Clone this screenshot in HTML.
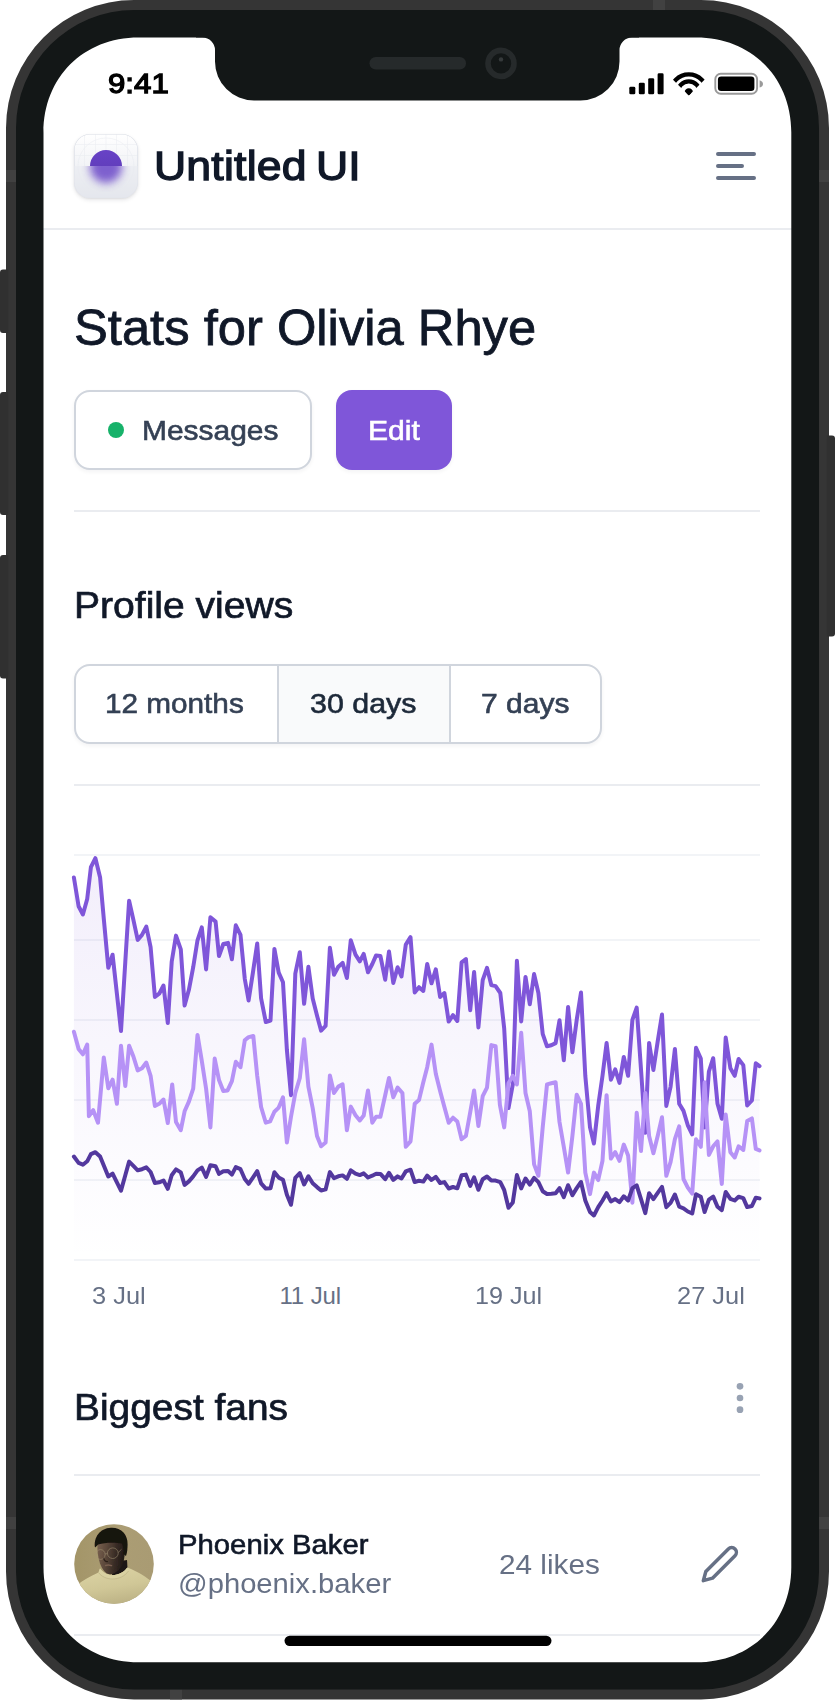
<!DOCTYPE html>
<html lang="en"><head><meta charset="utf-8"><title>Untitled UI – Stats for Olivia Rhye</title>
<style>
*{box-sizing:border-box;margin:0;padding:0}
html,body{width:837px;height:1704px;background:#fff;overflow:hidden}
body{position:relative;font-family:"Liberation Sans",sans-serif}
.t{position:absolute;white-space:nowrap;line-height:1;transform-origin:0 0}
.abs{position:absolute}
.hr{position:absolute;height:2px;background:#EAECF0;left:74px;width:686px}
svg{position:absolute;left:0;top:0;overflow:visible}
</style></head>
<body>
<!-- status bar -->
<div class="t" style="left:107.80px;top:69.47px;font-size:28.5px;color:#000;-webkit-text-stroke:1.3px #000;transform:scaleX(1.095);z-index:3;">9:41</div>

<svg width="837" height="130" viewBox="0 0 837 130" style="z-index:3">
  <g fill="#000">
    <rect x="629.300" y="86.800" width="6" height="7.500" rx="1.400"/>
    <rect x="638.800" y="82.700" width="6" height="11.600" rx="1.400"/>
    <rect x="648.200" y="78.200" width="6" height="16.100" rx="1.400"/>
    <rect x="657.600" y="73.300" width="6" height="21" rx="1.400"/>
  </g>
  <g>
    <clipPath id="wf"><path d="M688.800 95.500L671.500 78.200V68H706V78.200Z"/></clipPath>
    <g clip-path="url(#wf)" fill="none" stroke="#000" stroke-width="4.300">
      <circle cx="688.800" cy="92.600" r="18.300"/>
      <circle cx="688.800" cy="92.600" r="11.200"/>
      <circle cx="688.800" cy="92.600" r="2.500" fill="#000" stroke-width="3.500"/>
    </g>
  </g>
  <rect x="715.300" y="73.800" width="41.800" height="20" rx="5.500" fill="none" stroke="#9a9a9a" stroke-width="1.900"/>
  <rect x="717.900" y="76.500" width="36.500" height="14.600" rx="3.300" fill="#000"/>
  <path d="M759.600 80.200C761.800 80.900 763 82.300 763 83.900C763 85.500 761.800 86.900 759.600 87.600Z" fill="#9a9a9a"/>
</svg>
<!-- header -->

<div class="abs" style="left:74px;top:134px;width:64px;height:64px;border-radius:16px;background:linear-gradient(180deg,#fff 0%,#f3f4f7 45%,#dfe2e9 100%);box-shadow:0 0 0 0.6px #d8dce4 inset,0 2px 4px rgba(16,24,40,.10),0 1px 2px rgba(16,24,40,.06);overflow:hidden">
  <svg width="64" height="64" viewBox="0 0 64 64">
    <defs>
      <linearGradient id="lg1" x1="0" y1="0" x2="0" y2="1"><stop offset="0" stop-color="#6842C6"/><stop offset="1" stop-color="#5B3AB4"/></linearGradient>
      <filter id="bl" x="-50%" y="-50%" width="200%" height="200%"><feGaussianBlur stdDeviation="4"/></filter>
      <clipPath id="tophalf"><rect x="0" y="0" width="64" height="32"/></clipPath>
      <clipPath id="bothalf"><rect x="0" y="32" width="64" height="32"/></clipPath>
    </defs>
    <g stroke="#e3e6ec" stroke-width="0.600" fill="none" opacity=".6">
      <path d="M10.500 0V32M21.500 0V32M32 0V32M42.500 0V32M53.500 0V32M0 10.500H64M0 21.500H64"/>
      <circle cx="32" cy="32" r="28"/>
    </g>
    <rect x="0" y="32" width="64" height="32" fill="#e9ebf0" opacity=".55"/>
    <g clip-path="url(#bothalf)"><circle cx="32" cy="33" r="16" fill="#6B46C8" opacity=".85" filter="url(#bl)"/></g>
    <g clip-path="url(#tophalf)"><circle cx="32" cy="32" r="16" fill="url(#lg1)"/></g>
  </svg>
</div>
<div class="t" style="left:153.80px;top:146.14px;font-size:40px;color:#101828;letter-spacing:0.2px;-webkit-text-stroke:1.3px #101828;transform:scaleX(1.113);word-spacing:-3px;">Untitled UI</div>
<svg width="48" height="48" viewBox="0 0 24 24" style="left:712px;top:142px" fill="none" stroke="#667085" stroke-width="2" stroke-linecap="round"><path d="M3 6h18M3 12h12M3 18h18"/></svg>
<div class="hr" style="left:43px;width:749px;top:228px"></div>
<!-- page title -->
<div class="t" style="left:73.80px;top:302.50px;font-size:49.5px;color:#101828;-webkit-text-stroke:0.8px #101828;transform:scaleX(1.0244);">Stats for Olivia Rhye</div>
<div class="abs" style="left:74px;top:390px;width:238px;height:80px;border:2px solid #D0D5DD;border-radius:16px;background:#fff;box-shadow:0 2px 4px rgba(16,24,40,.05)"></div>
<div class="abs" style="left:108px;top:422px;width:16px;height:16px;border-radius:50%;background:#17B26A"></div>
<div class="t" style="left:141.90px;top:416.60px;font-size:28px;color:#344054;-webkit-text-stroke:0.6px #344054;transform:scaleX(1.0686);">Messages</div>
<div class="abs" style="left:336px;top:390px;width:116px;height:80px;border-radius:16px;background:#7F56D9;box-shadow:0 2px 4px rgba(16,24,40,.05)"></div>
<div class="t" style="left:367.60px;top:416.60px;font-size:28px;color:#fff;-webkit-text-stroke:0.6px #fff;transform:scaleX(1.0746);">Edit</div>
<div class="hr" style="top:510px"></div>
<!-- profile views -->
<div class="t" style="left:73.60px;top:587.50px;font-size:36.5px;color:#101828;-webkit-text-stroke:0.7px #101828;transform:scaleX(1.0703);">Profile views</div>
<div class="abs" style="left:74px;top:664px;width:528px;height:80px;border:2px solid #D0D5DD;border-radius:16px;background:#fff;box-shadow:0 2px 4px rgba(16,24,40,.05);overflow:hidden">
  <div class="abs" style="left:201px;top:0;width:174px;height:76px;background:#F9FAFB;border-left:2px solid #D0D5DD;border-right:2px solid #D0D5DD"></div>
</div>
<div class="t" style="left:105.40px;top:690.10px;font-size:28px;color:#344054;-webkit-text-stroke:0.6px #344054;transform:scaleX(1.0612);">12 months</div>
<div class="t" style="left:310.30px;top:690.10px;font-size:28px;color:#1D2939;-webkit-text-stroke:0.6px #1D2939;transform:scaleX(1.0856);">30 days</div>
<div class="t" style="left:481.30px;top:690.10px;font-size:28px;color:#344054;-webkit-text-stroke:0.6px #344054;transform:scaleX(1.0727);">7 days</div>
<div class="hr" style="top:784px"></div>
<!-- chart -->
<svg width="837" height="1704" viewBox="0 0 837 1704" style="z-index:1">
<defs><linearGradient id="cg" x1="0" y1="855" x2="0" y2="1260" gradientUnits="userSpaceOnUse"><stop offset="0" stop-color="#7F56D9" stop-opacity=".1"/><stop offset="1" stop-color="#7F56D9" stop-opacity="0"/></linearGradient></defs>
<rect x="74" y="854" width="686" height="2" fill="#F2F4F7"/>
<rect x="74" y="939" width="686" height="2" fill="#F2F4F7"/>
<rect x="74" y="1019" width="686" height="2" fill="#F2F4F7"/>
<rect x="74" y="1099" width="686" height="2" fill="#F2F4F7"/>
<rect x="74" y="1179" width="686" height="2" fill="#F2F4F7"/>
<rect x="74" y="1259" width="686" height="2" fill="#F2F4F7"/>
<path d="M73.9 877.5 L78.6 906.3 L82.9 914.5 L87.2 899.0 L90.9 867.2 L95.4 858.2 L100.1 877.5 L104.0 921.0 L108.3 967.8 L112.6 954.7 L116.9 993.7 L121.0 1031.1 L125.3 961.8 L129.1 900.8 L133.4 919.9 L137.7 939.9 L142.0 934.9 L146.3 926.6 L150.6 947.2 L154.9 996.9 L159.2 993.7 L163.5 985.5 L167.8 1023.1 L171.7 961.8 L176.0 935.6 L180.8 949.4 L184.6 1005.5 L188.9 989.8 L193.2 967.2 L197.5 940.3 L201.8 927.4 L206.1 969.4 L210.4 917.3 L215.6 921.6 L219.0 956.0 L223.3 944.0 L228.1 942.9 L231.9 959.2 L235.8 925.3 L240.5 934.9 L244.8 979.0 L248.6 1000.5 L252.9 972.6 L257.2 943.5 L261.1 998.4 L265.8 1022.0 L270.5 1020.5 L274.4 948.9 L278.7 972.6 L283.0 982.3 L286.9 1050.0 L291.0 1095.2 L295.3 973.7 L299.8 952.2 L304.1 1003.8 L308.4 966.8 L312.7 998.4 L317.0 1015.6 L321.1 1030.6 L325.6 1025.9 L329.9 947.8 L334.0 974.7 L338.3 966.8 L342.6 962.9 L346.9 978.0 L350.8 940.3 L355.5 954.7 L359.8 961.4 L363.7 953.9 L368.0 972.2 L372.3 964.0 L376.1 955.4 L380.4 956.0 L385.2 979.7 L389.0 951.5 L393.3 982.9 L397.6 967.2 L401.5 976.5 L405.8 944.6 L410.5 937.1 L414.7 992.4 L419.0 987.2 L423.3 990.9 L427.2 964.0 L431.5 983.3 L435.8 969.4 L440.1 996.9 L444.4 993.0 L448.7 1021.6 L453.0 1015.2 L457.3 1021.0 L461.6 962.3 L465.9 959.0 L470.2 1010.2 L474.1 971.9 L478.4 1027.4 L482.7 980.1 L487.0 967.8 L491.3 985.1 L495.6 986.1 L500.3 993.0 L504.2 1028.5 L508.5 1108.1 L512.8 1084.4 L516.9 960.8 L521.2 1021.4 L525.5 976.9 L529.8 1004.2 L534.1 974.1 L538.4 993.0 L542.7 1033.9 L547.0 1046.3 L551.3 1045.3 L555.6 1043.1 L559.5 1020.3 L563.8 1060.3 L568.1 1007.0 L572.4 1052.2 L576.7 1019.9 L581.0 992.6 L585.3 1075.8 L590.0 1127.4 L593.9 1143.5 L598.2 1105.9 L602.5 1075.8 L606.6 1042.9 L610.9 1079.7 L615.2 1069.4 L619.5 1082.9 L623.8 1056.9 L628.1 1075.8 L632.4 1019.9 L636.7 1007.6 L641.0 1069.4 L645.3 1132.8 L649.1 1042.9 L653.4 1070.0 L657.7 1041.4 L662.0 1014.5 L666.3 1105.9 L670.6 1086.6 L674.9 1048.9 L679.2 1103.8 L683.5 1110.9 L687.8 1125.3 L692.2 1134.3 L696.0 1047.8 L700.8 1058.6 L704.6 1127.4 L708.9 1071.5 L713.2 1058.2 L717.5 1103.8 L721.8 1118.8 L725.7 1037.5 L730.4 1068.3 L734.7 1075.8 L738.6 1059.0 L743.3 1065.1 L747.2 1105.5 L751.9 1100.5 L755.8 1063.3 L759.5 1066.1 L759.5 1260 L73.9 1260Z" fill="url(#cg)"/>
<path d="M73.9 877.5 L78.6 906.3 L82.9 914.5 L87.2 899.0 L90.9 867.2 L95.4 858.2 L100.1 877.5 L104.0 921.0 L108.3 967.8 L112.6 954.7 L116.9 993.7 L121.0 1031.1 L125.3 961.8 L129.1 900.8 L133.4 919.9 L137.7 939.9 L142.0 934.9 L146.3 926.6 L150.6 947.2 L154.9 996.9 L159.2 993.7 L163.5 985.5 L167.8 1023.1 L171.7 961.8 L176.0 935.6 L180.8 949.4 L184.6 1005.5 L188.9 989.8 L193.2 967.2 L197.5 940.3 L201.8 927.4 L206.1 969.4 L210.4 917.3 L215.6 921.6 L219.0 956.0 L223.3 944.0 L228.1 942.9 L231.9 959.2 L235.8 925.3 L240.5 934.9 L244.8 979.0 L248.6 1000.5 L252.9 972.6 L257.2 943.5 L261.1 998.4 L265.8 1022.0 L270.5 1020.5 L274.4 948.9 L278.7 972.6 L283.0 982.3 L286.9 1050.0 L291.0 1095.2 L295.3 973.7 L299.8 952.2 L304.1 1003.8 L308.4 966.8 L312.7 998.4 L317.0 1015.6 L321.1 1030.6 L325.6 1025.9 L329.9 947.8 L334.0 974.7 L338.3 966.8 L342.6 962.9 L346.9 978.0 L350.8 940.3 L355.5 954.7 L359.8 961.4 L363.7 953.9 L368.0 972.2 L372.3 964.0 L376.1 955.4 L380.4 956.0 L385.2 979.7 L389.0 951.5 L393.3 982.9 L397.6 967.2 L401.5 976.5 L405.8 944.6 L410.5 937.1 L414.7 992.4 L419.0 987.2 L423.3 990.9 L427.2 964.0 L431.5 983.3 L435.8 969.4 L440.1 996.9 L444.4 993.0 L448.7 1021.6 L453.0 1015.2 L457.3 1021.0 L461.6 962.3 L465.9 959.0 L470.2 1010.2 L474.1 971.9 L478.4 1027.4 L482.7 980.1 L487.0 967.8 L491.3 985.1 L495.6 986.1 L500.3 993.0 L504.2 1028.5 L508.5 1108.1 L512.8 1084.4 L516.9 960.8 L521.2 1021.4 L525.5 976.9 L529.8 1004.2 L534.1 974.1 L538.4 993.0 L542.7 1033.9 L547.0 1046.3 L551.3 1045.3 L555.6 1043.1 L559.5 1020.3 L563.8 1060.3 L568.1 1007.0 L572.4 1052.2 L576.7 1019.9 L581.0 992.6 L585.3 1075.8 L590.0 1127.4 L593.9 1143.5 L598.2 1105.9 L602.5 1075.8 L606.6 1042.9 L610.9 1079.7 L615.2 1069.4 L619.5 1082.9 L623.8 1056.9 L628.1 1075.8 L632.4 1019.9 L636.7 1007.6 L641.0 1069.4 L645.3 1132.8 L649.1 1042.9 L653.4 1070.0 L657.7 1041.4 L662.0 1014.5 L666.3 1105.9 L670.6 1086.6 L674.9 1048.9 L679.2 1103.8 L683.5 1110.9 L687.8 1125.3 L692.2 1134.3 L696.0 1047.8 L700.8 1058.6 L704.6 1127.4 L708.9 1071.5 L713.2 1058.2 L717.5 1103.8 L721.8 1118.8 L725.7 1037.5 L730.4 1068.3 L734.7 1075.8 L738.6 1059.0 L743.3 1065.1 L747.2 1105.5 L751.9 1100.5 L755.8 1063.3 L759.5 1066.1" fill="none" stroke="#7F56D9" stroke-width="4" stroke-linejoin="round" stroke-linecap="round"/>
<path d="M73.9 1031.7 L78.6 1048.9 L82.9 1054.3 L87.2 1044.6 L88.9 1116.2 L93.2 1110.2 L98.0 1122.7 L103.8 1057.5 L108.3 1088.3 L112.6 1079.7 L116.9 1103.8 L121.0 1045.7 L125.3 1086.1 L129.1 1045.7 L133.4 1056.5 L137.7 1070.4 L142.0 1068.3 L146.3 1062.5 L150.6 1075.8 L154.9 1105.9 L159.2 1103.8 L163.5 1099.5 L167.8 1123.1 L172.2 1084.4 L176.0 1122.0 L180.8 1130.2 L184.6 1111.3 L188.9 1101.6 L193.2 1088.7 L197.5 1034.9 L201.8 1060.8 L206.1 1088.7 L210.4 1127.4 L214.7 1058.6 L219.0 1080.1 L223.3 1090.9 L227.6 1090.4 L231.9 1081.2 L235.8 1061.8 L240.5 1067.2 L244.8 1040.3 L244.7 1040.3 L248.6 1037.1 L253.3 1036.0 L257.2 1075.8 L261.1 1107.0 L265.8 1122.7 L270.1 1121.4 L274.4 1111.7 L278.7 1107.6 L283.0 1097.3 L286.9 1142.5 L291.0 1116.7 L295.3 1093.0 L299.8 1078.0 L304.1 1039.2 L308.4 1086.6 L312.7 1108.1 L317.0 1136.0 L321.1 1146.3 L325.6 1142.5 L329.9 1075.4 L334.0 1093.0 L338.3 1086.6 L342.6 1084.4 L346.9 1130.2 L350.8 1106.6 L355.5 1115.2 L359.8 1120.5 L363.7 1115.6 L368.0 1090.4 L372.3 1122.7 L376.1 1116.7 L380.4 1116.7 L385.2 1095.2 L389.0 1078.0 L393.3 1097.3 L397.6 1087.6 L402.4 1093.0 L405.8 1146.8 L410.5 1141.4 L414.7 1103.8 L419.0 1100.1 L423.3 1082.3 L427.2 1067.2 L431.5 1044.6 L435.8 1073.7 L440.1 1090.9 L444.4 1107.0 L448.7 1122.7 L453.0 1117.7 L457.3 1121.4 L461.6 1139.2 L465.9 1136.0 L470.2 1112.4 L474.1 1090.4 L478.4 1125.9 L482.7 1096.2 L487.0 1087.6 L491.3 1045.1 L495.6 1046.1 L499.9 1104.8 L504.2 1127.4 L508.5 1083.3 L512.8 1075.8 L516.9 1084.4 L521.2 1032.8 L525.5 1093.0 L529.8 1111.3 L534.1 1164.4 L538.4 1175.8 L542.7 1127.4 L547.0 1084.4 L551.3 1083.3 L555.6 1082.3 L559.5 1122.0 L563.8 1146.8 L568.1 1172.6 L572.4 1136.0 L576.7 1094.7 L581.0 1103.8 L585.3 1172.6 L590.0 1194.1 L593.9 1172.6 L598.2 1180.1 L602.5 1160.8 L606.6 1095.2 L610.9 1158.6 L615.2 1152.2 L619.5 1160.8 L623.8 1144.6 L628.1 1155.4 L632.4 1202.7 L636.7 1112.8 L641.0 1151.1 L645.3 1093.0 L649.1 1136.0 L653.4 1153.2 L657.7 1136.0 L662.0 1117.3 L666.3 1175.8 L670.6 1161.8 L674.9 1139.2 L679.2 1126.3 L683.5 1179.0 L687.8 1187.6 L692.2 1193.7 L696.0 1139.2 L700.8 1146.8 L704.6 1082.3 L708.9 1154.9 L713.2 1146.3 L717.5 1141.4 L721.8 1184.0 L725.7 1114.5 L730.4 1152.2 L734.7 1157.5 L738.6 1146.3 L743.3 1150.0 L747.2 1121.0 L751.9 1118.4 L755.8 1148.9 L759.5 1150.4" fill="none" stroke="#B692F6" stroke-width="4" stroke-linejoin="round" stroke-linecap="round"/>
<path d="M73.9 1156.5 L78.6 1162.9 L82.9 1164.7 L87.2 1161.3 L90.9 1154.2 L95.4 1152.2 L100.1 1156.5 L104.0 1166.1 L108.3 1176.5 L112.6 1173.6 L116.9 1182.3 L121.0 1190.6 L125.3 1175.2 L129.1 1161.6 L133.4 1165.9 L137.7 1170.3 L142.0 1169.2 L146.3 1167.4 L150.6 1172.0 L154.9 1183.0 L159.2 1182.3 L163.5 1180.5 L167.8 1188.8 L171.7 1175.2 L176.0 1169.4 L180.8 1172.4 L184.6 1184.9 L188.9 1181.4 L193.2 1176.4 L197.5 1170.4 L201.8 1167.6 L206.1 1176.9 L210.4 1165.3 L215.6 1166.3 L219.0 1173.9 L223.3 1171.2 L228.1 1171.0 L231.9 1174.6 L235.8 1167.1 L240.5 1169.2 L244.8 1179.0 L248.6 1183.8 L252.9 1177.6 L257.2 1171.1 L261.1 1183.3 L265.8 1188.6 L270.5 1188.2 L274.4 1172.3 L278.7 1177.6 L283.0 1179.7 L286.9 1194.8 L291.0 1204.8 L295.3 1177.8 L299.8 1173.1 L304.1 1184.5 L308.4 1176.3 L312.7 1183.3 L317.0 1187.1 L321.1 1190.5 L325.6 1189.4 L329.9 1172.1 L334.0 1178.1 L338.3 1176.3 L342.6 1175.4 L346.9 1178.8 L350.8 1170.4 L355.5 1173.6 L359.8 1175.1 L363.7 1173.4 L368.0 1177.5 L372.3 1175.7 L376.1 1173.8 L380.4 1173.9 L385.2 1179.2 L389.0 1172.9 L393.3 1179.9 L397.6 1176.4 L401.5 1178.5 L405.8 1171.4 L410.5 1169.7 L414.7 1182.0 L419.0 1180.8 L423.3 1181.6 L427.2 1175.7 L431.5 1180.0 L435.8 1176.9 L440.1 1183.0 L444.4 1182.1 L448.7 1188.5 L453.0 1187.0 L457.3 1188.3 L461.6 1175.3 L465.9 1174.6 L470.2 1185.9 L474.1 1177.4 L478.4 1189.8 L482.7 1179.3 L487.0 1176.5 L491.3 1180.4 L495.6 1180.6 L500.3 1182.1 L504.2 1190.0 L508.5 1207.7 L512.8 1202.4 L516.9 1175.0 L521.2 1188.4 L525.5 1178.5 L529.8 1184.6 L534.1 1177.9 L538.4 1182.1 L542.7 1191.2 L547.0 1194.0 L551.3 1193.7 L555.6 1193.3 L559.5 1188.2 L563.8 1197.1 L568.1 1185.2 L572.4 1195.3 L576.7 1188.1 L581.0 1182.0 L585.3 1200.5 L590.0 1212.0 L593.9 1215.5 L598.2 1207.2 L602.5 1200.5 L606.6 1193.2 L610.9 1201.4 L615.2 1199.1 L619.5 1202.1 L623.8 1196.3 L628.1 1200.5 L632.4 1188.1 L636.7 1185.4 L641.0 1199.1 L645.3 1213.2 L649.1 1193.2 L653.4 1199.2 L657.7 1192.9 L662.0 1186.9 L666.3 1207.2 L670.6 1202.9 L674.9 1194.5 L679.2 1206.7 L683.5 1208.3 L687.8 1211.5 L692.2 1213.5 L696.0 1194.3 L700.8 1196.7 L704.6 1212.0 L708.9 1199.6 L713.2 1196.6 L717.5 1206.7 L721.8 1210.1 L725.7 1192.0 L730.4 1198.8 L734.7 1200.5 L738.6 1196.8 L743.3 1198.1 L747.2 1207.1 L751.9 1206.0 L755.8 1197.7 L759.5 1198.4" fill="none" stroke="#53389E" stroke-width="4" stroke-linejoin="round" stroke-linecap="round"/>
</svg>
<div class="t" style="left:92.20px;top:1284.48px;font-size:24px;color:#667085;transform:scaleX(1.059);">3 Jul</div>
<div class="t" style="left:279.40px;top:1284.48px;font-size:24px;color:#667085;letter-spacing:-0.1px;">11 Jul</div>
<div class="t" style="left:474.80px;top:1284.48px;font-size:24px;color:#667085;transform:scaleX(1.047);">19 Jul</div>
<div class="t" style="left:676.60px;top:1284.48px;font-size:24px;color:#667085;transform:scaleX(1.0585);">27 Jul</div>
<!-- biggest fans -->
<div class="t" style="left:74.20px;top:1390.00px;font-size:36.5px;color:#101828;-webkit-text-stroke:0.7px #101828;transform:scaleX(1.0657);">Biggest fans</div>
<svg width="40" height="40" viewBox="0 0 24 24" style="left:720px;top:1378px" fill="#98A2B3"><circle cx="12" cy="5" r="2"/><circle cx="12" cy="12" r="2"/><circle cx="12" cy="19" r="2"/></svg>
<div class="hr" style="top:1474px"></div>
<svg width="80" height="80" viewBox="0 0 80 80" style="left:74px;top:1524px">
  <defs>
    <clipPath id="avc"><circle cx="40" cy="40" r="39.800"/></clipPath>
    <linearGradient id="avbg" x1="0" y1="0" x2="1" y2="0"><stop offset="0" stop-color="#A39568"/><stop offset="0.550" stop-color="#AB9D74"/><stop offset="1" stop-color="#A99B73"/></linearGradient>
    <linearGradient id="avface" x1="0" y1="0" x2="1" y2="0.150"><stop offset="0" stop-color="#7A6250"/><stop offset="0.350" stop-color="#5E4A3C"/><stop offset="0.700" stop-color="#3A2D26"/><stop offset="1" stop-color="#221A17"/></linearGradient>
    <linearGradient id="avsw" x1="0" y1="0" x2="0.350" y2="1"><stop offset="0" stop-color="#DDD5A6"/><stop offset="0.600" stop-color="#D0C797"/><stop offset="1" stop-color="#BDB386"/></linearGradient>
    <filter id="avb" x="-20%" y="-20%" width="140%" height="140%"><feGaussianBlur stdDeviation="0.700"/></filter>
  </defs>
  <g clip-path="url(#avc)">
    <rect width="80" height="80" fill="url(#avbg)"/>
    <g filter="url(#avb)">
      <!-- neck shadow -->
      <path d="M40 38L53 36L53.500 44.500C50 49 44 51.500 38 51Z" fill="#1E1713"/>
      <!-- sweater -->
      <path d="M3 61C9 56 17 52 24.500 48.500L26 44.600C29 48.500 33 51.200 38 51.200C45 51.200 50.500 47.500 53.200 43.500C60 46 69 50.500 77 57L82 82H-2Z" fill="url(#avsw)"/>
      <path d="M26 44.600C29 48.500 33 51.200 38 51.200C45 51.200 50.500 47.500 53.200 43.500L54.500 47C51 52 45 55 38.500 55C32.500 55 27.500 52.500 24.500 48.500Z" fill="#D9D1A2"/>
      <path d="M24.500 48.500C27.500 52.500 32.500 55 38.500 55C45 55 51 52 54.500 47" fill="none" stroke="#B7AD80" stroke-width="0.700" opacity=".8"/>
      <!-- face -->
      <path d="M23.500 19C23 26 23.800 33 26 39.500C28 45 31.500 50.300 36 50.300C41 50.300 46 45.500 48.500 40.500C50.500 36 51 30 50.500 24C49 18 44 13.500 37 13.500C30 13.500 24.500 15 23.500 19Z" fill="url(#avface)"/>
      <!-- hair -->
      <path d="M21 23.500C19.500 14 25.500 4.200 37 3.800C47.500 3.500 54 11 53.600 20.500C53.500 24.500 53.200 29 52 32L49.300 30C49.800 26 49.500 22.500 47.800 19.500C42 18.500 31 18.200 24.200 20.500C23.200 21.300 22.300 22.500 21 23.500Z" fill="#18130F"/>
      <!-- features -->
      <path d="M31.500 41.500C33 40.900 35.500 40.900 37.500 41.600" stroke="#7A5F50" stroke-width="1.500" fill="none" stroke-linecap="round"/>
      <path d="M29.500 33.500C30 36.500 31.500 38 34 37.500" stroke="#2A1F19" stroke-width="1.200" fill="none"/>
    </g>
    <!-- glasses -->
    <g fill="none" stroke="#A8987A" stroke-width="0.700" opacity=".75">
      <ellipse cx="26.500" cy="30.500" rx="4.600" ry="4.900"/>
      <ellipse cx="38.800" cy="29.200" rx="5.400" ry="5.300"/>
      <path d="M31 30L33.500 29.600M44.200 28.500L47.500 25.300"/>
    </g>
  </g>
</svg>
<div class="t" style="left:178.00px;top:1530.80px;font-size:28px;color:#101828;-webkit-text-stroke:0.6px #101828;transform:scaleX(1.046);">Phoenix Baker</div>
<div class="t" style="left:177.80px;top:1570.30px;font-size:28px;color:#667085;transform:scaleX(1.043);">@phoenix.baker</div>
<div class="t" style="left:498.70px;top:1551.30px;font-size:28px;color:#667085;transform:scaleX(1.0627);">24 likes</div>
<svg width="40" height="40" viewBox="0 0 24 24" style="left:700px;top:1544px" fill="none" stroke="#667085" stroke-width="2.1" stroke-linecap="round" stroke-linejoin="round"><path d="M17 3a2.828 2.828 0 1 1 4 4L7.500 20.500 2 22l1.500-5.500L17 3z"/></svg>
<div class="hr" style="top:1634px"></div>
<!-- phone frame -->

<svg width="837" height="1704" viewBox="0 0 837 1704" style="z-index:5;pointer-events:none">
  <!-- outer ring + bezel with screen cut-out -->
  <path fill-rule="evenodd" fill="#353535" d="M134 0H701A128 128 0 0 1 829 128V1571.5A128 128 0 0 1 701 1699.5H134A128 128 0 0 1 6 1571.5V128A128 128 0 0 1 134 0Z M138.5 36.5H696.3C751.98 36.5 792.3 76.82 792.3 132.5V1567.3C792.3 1622.98 751.98 1663.3 696.3 1663.3H138.5C82.82 1663.3 42.5 1622.98 42.5 1567.3V132.5C42.5 76.82 82.82 36.5 138.5 36.5Z"/>
  <!-- side buttons -->
  <path fill="#303030" d="M3 269.500H8.200V333H3A3 3 0 0 1 0 330V272.500A3 3 0 0 1 3 269.500Z"/>
  <path fill="#303030" d="M3 392H8.200V515H3A3 3 0 0 1 0 512V395A3 3 0 0 1 3 392Z"/>
  <path fill="#303030" d="M3 555H8.200V678.500H3A3 3 0 0 1 0 675.500V558A3 3 0 0 1 3 555Z"/>
  <path fill="#303030" d="M832 435.500H826.800V636.500H832A3 3 0 0 0 835 633.500V438.500A3 3 0 0 0 832 435.500Z"/>
  <!-- antenna bands -->
  <rect x="6" y="170" width="10" height="12" fill="#414141"/>
  <rect x="819" y="170" width="10" height="12" fill="#414141"/>
  <rect x="6" y="1517" width="10" height="12" fill="#414141"/>
  <rect x="819" y="1517" width="10" height="12" fill="#414141"/>
  <rect x="653" y="0" width="12" height="10" fill="#414141"/>
  <rect x="170" y="1689.5" width="12" height="10" fill="#414141"/>
  <path fill-rule="evenodd" fill="#131717" d="M134 10H701A118 118 0 0 1 819 128V1571.5A118 118 0 0 1 701 1689.5H134A118 118 0 0 1 16 1571.5V128A118 118 0 0 1 134 10Z M138.5 37.5H696.3C751.4 37.5 791.3 77.4 791.3 132.5V1567.3C791.3 1622.4 751.4 1662.3 696.3 1662.3H138.5C83.4 1662.3 43.5 1622.4 43.5 1567.3V132.5C43.5 77.4 83.4 37.5 138.5 37.5Z"/>
  <!-- notch -->
  <path fill="#131717" d="M196 36H639V37.500H632A12.500 12.500 0 0 0 619.500 50V61.500A39 39 0 0 1 580.500 100.500H254A39 39 0 0 1 215 61.500V50A12.500 12.500 0 0 0 202.500 37.500H196Z"/>
  <rect x="369.500" y="57" width="96.500" height="12.500" rx="6.250" fill="#262A2B"/>
  <circle cx="501" cy="63.400" r="13" fill="none" stroke="#262A2B" stroke-width="5.600"/>
  <circle cx="501" cy="59.400" r="2.200" fill="#363A3B"/>
  <!-- home indicator -->
  <rect x="284.500" y="1635.700" width="267" height="10.300" rx="5.150" fill="#000"/>
</svg>
</body></html>
